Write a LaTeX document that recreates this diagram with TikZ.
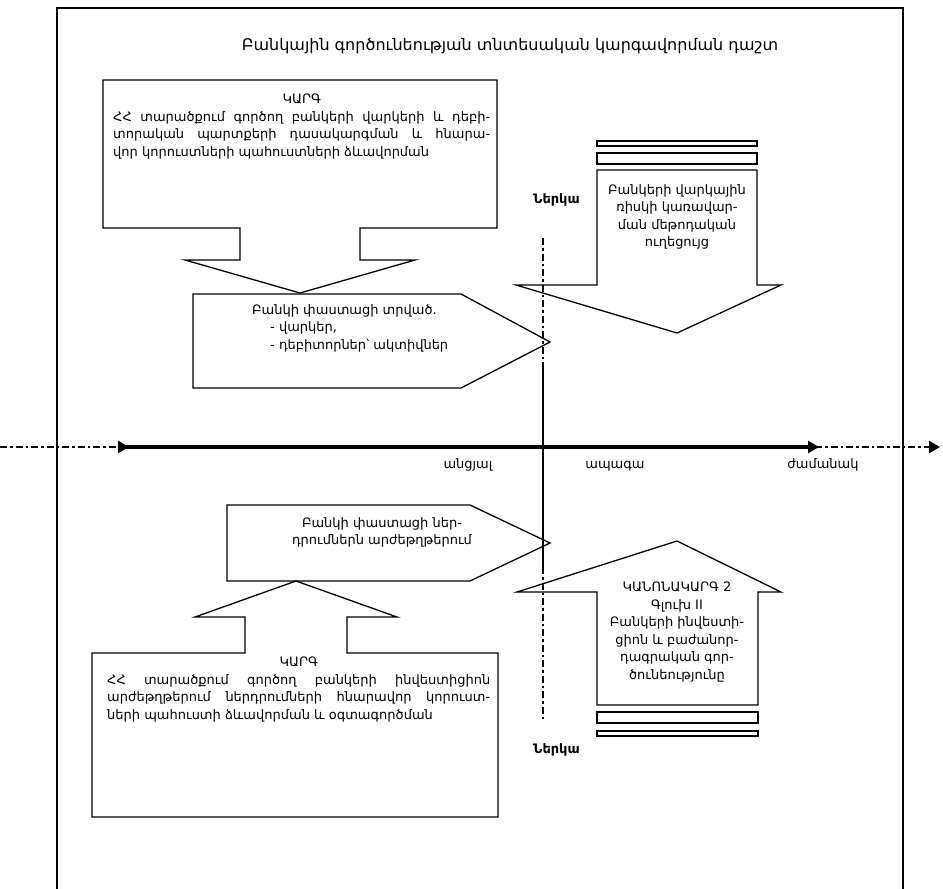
\documentclass[tikz,border=0pt]{standalone}
\usepackage{fontspec}
\setmainfont{DejaVu Sans}
\usetikzlibrary{arrows.meta}
\begin{document}
\begin{tikzpicture}[x=1pt,y=-1pt,line join=miter,
  outline/.style={draw=black,line width=1.3pt},
  framebox/.style={draw=black,line width=1.4pt},
  dashdotline/.style={line width=2.5pt,dash pattern=on 7pt off 3pt on 2.5pt off 3pt},
  thinline/.style={line width=1.3pt},
  axisline/.style={line width=4pt},
  tip/.style={-{Triangle[length=11pt,width=12pt]}},
  txt/.style={font=\fontsize{13}{17.5}\selectfont,inner sep=0pt},
  ttl/.style={font=\fontsize{16}{20}\selectfont,inner sep=0pt},
  bold/.style={font=\fontsize{13}{16}\selectfont\bfseries,inner sep=0pt}]
\useasboundingbox (0,0) rectangle (943,889);

% outer field, open at the bottom
\draw[framebox] (57,889) -- (57,8) -- (903,8) -- (903,889);

\node[ttl] (title) at (510,46) {Բանկային գործունեության տնտեսական կարգավորման դաշտ};

% upper-left callout pointing down
\draw[outline] (103,80) -- (497,80) -- (497,228) -- (360,228) -- (360,260) -- (415,260)
  -- (300,293) -- (185,260) -- (240,260) -- (240,228) -- (103,228) -- cycle;
\node[txt,anchor=north west,align=left] (kargA) at (113,94) {%
  \makebox[377pt]{ԿԱՐԳ}\\
  \makebox[377pt][s]{ՀՀ տարածքում գործող բանկերի վարկերի և դեբի-}\\
  \makebox[377pt][s]{տորական պարտքերի դասակարգման և հնարա-}\\
  վոր կորուստների պահուստների ձևավորման};

% pentagon: loans
\draw[outline] (193,294) -- (461,294) -- (550,342) -- (461,388) -- (193,388) -- cycle;
\node[txt,anchor=north west,align=left] (loans) at (252,304) {%
  Բանկի փաստացի տրված.\\
  \hspace*{18pt}- վարկեր,\\
  \hspace*{18pt}- դեբիտորներ՝ ակտիվներ};

% upper-right down arrow with stripes
\draw[outline] (597,141) rectangle (757,146);
\draw[outline] (597,153) rectangle (757,164);
\draw[outline] (597,285) -- (597,170) -- (757,170) -- (757,285) -- (781,285)
  -- (677,333) -- (516,285) -- cycle;
\node[txt,align=center,anchor=north] (guide) at (677,184) {%
  Բանկերի վարկային\\ ռիսկի կառավար-\\ ման մեթոդական\\ ուղեցույց};

% time axis
\coordinate (axA) at (0,447);
\coordinate (axB) at (129,447);
\coordinate (axC) at (124,447);
\coordinate (axD) at (819,447);
\coordinate (axE) at (815,447);
\coordinate (axF) at (940,447);
\draw[dashdotline,tip] (axA) -- (axB);
\draw[axisline,tip] (axC) -- (axD);
\draw[dashdotline,tip] (axE) -- (axF);
\node[txt,anchor=base] (past) at (468,468) {անցյալ};
\node[txt,anchor=base] (future) at (615,468) {ապագա};
\node[txt,anchor=base] (time) at (823,468) {ժամանակ};

% present-moment line
\coordinate (v1) at (543,238);
\coordinate (v2) at (543,367);
\coordinate (v3) at (543,567);
\coordinate (v4) at (543,720);
\draw[dashdotline] (v1) -- (v2);
\draw[thinline] (v2) -- (v3);
\draw[dashdotline] (v3) -- (v4);
\node[bold,anchor=base west] (nowT) at (533,203) {Ներկա};
\node[bold,anchor=base west] (nowB) at (533,753) {Ներկա};

% pentagon: securities
\draw[outline] (227,505) -- (470,505) -- (550,543) -- (470,581) -- (227,581) -- cycle;
\node[txt,align=center,anchor=north] (invest) at (382,517) {%
  Բանկի փաստացի ներ-\\ դրումներն արժեթղթերում};

% lower-left callout pointing up
\draw[outline] (92,817) -- (92,653) -- (245,653) -- (245,617) -- (195,617) -- (296,581)
  -- (397,617) -- (347,617) -- (347,653) -- (498,653) -- (498,817) -- cycle;
\node[txt,anchor=north west,align=left] (kargB) at (107,657) {%
  \makebox[383pt]{ԿԱՐԳ}\\
  \makebox[383pt][s]{ՀՀ տարածքում գործող բանկերի ինվեստիցիոն}\\
  \makebox[383pt][s]{արժեթղթերում ներդրումների հնարավոր կորուստ-}\\
  ների պահուստի ձևավորման և օգտագործման};

% lower-right up arrow with stripes
\draw[outline] (597,705) -- (597,592) -- (517,592) -- (677,541) -- (781,592)
  -- (758,592) -- (758,705) -- cycle;
\draw[outline] (597,712) rectangle (758,723);
\draw[outline] (597,731) rectangle (758,736);
\node[txt,align=center,anchor=north] (rule) at (677,582) {%
  ԿԱՆՈՆԱԿԱՐԳ 2\\ Գլուխ II\\ Բանկերի ինվեստի-\\ ցիոն և բաժանոր-\\ դագրական գոր-\\ ծունեությունը};
\end{tikzpicture}
\end{document}
